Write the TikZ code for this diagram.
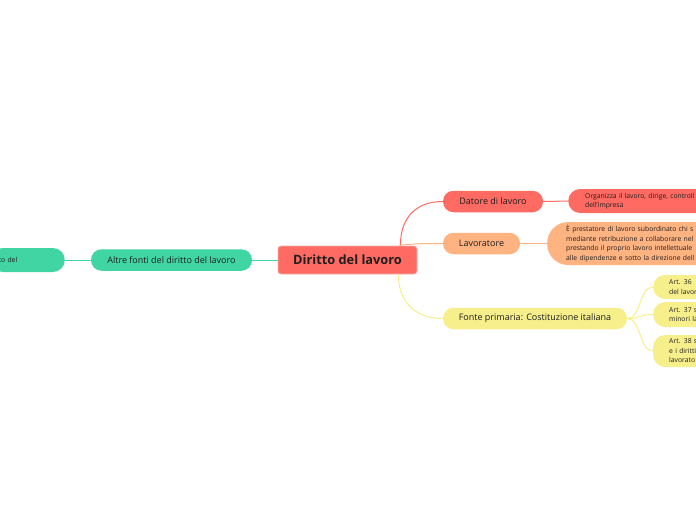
\documentclass[tikz,border=0pt]{standalone}
\usepackage{fontspec}
\setmainfont{Open Sans}
\usepackage{tikz}
\definecolor{rootred}{HTML}{FF6B63}
\definecolor{rootrule}{HTML}{F7B0AB}
\definecolor{lavorange}{HTML}{FFB381}
\definecolor{fontyellow}{HTML}{F7EF8C}
\definecolor{altgreen}{HTML}{40D5A2}
\definecolor{inkdark}{HTML}{1E1E1E}

\begin{document}
\begin{tikzpicture}[x=1pt,y=-1pt,
      root/.style={draw=rootrule,line width=0.8pt,fill=rootred,rounded corners=3pt,
                   minimum width=139pt,minimum height=28pt,inner sep=0pt,text=inkdark,
                   font=\fontsize{12.8}{15}\selectfont\bfseries},
      topic/.style={fill=#1,rounded corners=10.5pt,minimum height=21.5pt,inner sep=0pt,
                   text=inkdark,font=\fontsize{9}{11}\selectfont},
      leaf/.style={fill=#1,inner ysep=0pt,align=left,text=inkdark,
                   font=\fontsize{6.8}{9.5}\selectfont},
      link/.style={draw=#1,line width=1pt}]
    \useasboundingbox (0,0) rectangle (696,520);
    \clip (0,0) rectangle (696,520);
    \fill[white] (0,0) rectangle (696,520);

    \node[root] (root) at (347.5,260) {Diritto del lavoro};
    \node[topic=altgreen,minimum width=161pt] (altre) at (171.5,260) {Altre fonti del diritto del lavoro};
    \node[leaf=altgreen,anchor=east,minimum height=24pt,rounded corners=12pt,
          inner xsep=8pt,text width=58pt] (fonti) at (65,260) {to del\\ };

    \node[topic=rootred,minimum width=100pt] (datore) at (493,201.5) {Datore di lavoro};
    \node[topic=lavorange,minimum width=77pt] (lav) at (481.5,243.5) {Lavoratore};
    \node[topic=fontyellow,minimum width=184pt] (fonte) at (535,318.5) {Fonte primaria: Costituzione italiana};

    \node[leaf=rootred,anchor=west,minimum height=24pt,rounded corners=12pt,
          inner xsep=17pt,text width=150pt] (orgz) at (568,201) {Organizza il lavoro, dirige, controll\\dell'impresa};
    \node[leaf=lavorange,anchor=west,minimum height=43pt,rounded corners=21pt,
          inner xsep=19pt,text width=150pt] (prest) at (547,243.5)
          {È prestatore di lavoro subordinato chi s\\mediante retribuzione a collaborare nel\\prestando il proprio lavoro intellettuale\\alle dipendenze e sotto la direzione dell};

    \foreach \n/\y/\h/\t in {36/287/24/{Art. 36\ \ s\\del lavor},
                             37/314.5/25/{Art. 37 s\\minori la},
                             38/351/32/{Art. 38 s\\e i diritti\\lavorato}} {
      \node[leaf=fontyellow,anchor=west,minimum height=\h pt,rounded corners=12pt,
            inner xsep=16pt,text width=60pt] (art\n) at (653,\y) {\t};
      \draw[link=fontyellow] (fonte.east) .. controls +(14,0) and +(-14,0) .. (art\n.west);
    }

    \draw[link=altgreen] (fonti.east) -- (altre.west);
    \draw[link=altgreen] (altre.east) -- (root.west);
    \draw[link=rootred] ([xshift=-17pt]root.north east) .. controls +(0,-30) and +(-25,0) .. (datore.west);
    \draw[link=lavorange] ([xshift=-18pt]root.north east) .. controls +(10,-2) and +(-15,0) .. (lav.west);
    \draw[link=fontyellow] ([xshift=-19pt]root.south east) .. controls +(0,30) and +(-25,0) .. (fonte.west);
    \draw[link=rootred] (datore.east) -- (orgz.west);
    \draw[link=lavorange] (lav.east) -- (prest.west);
  \end{tikzpicture}
\end{document}
